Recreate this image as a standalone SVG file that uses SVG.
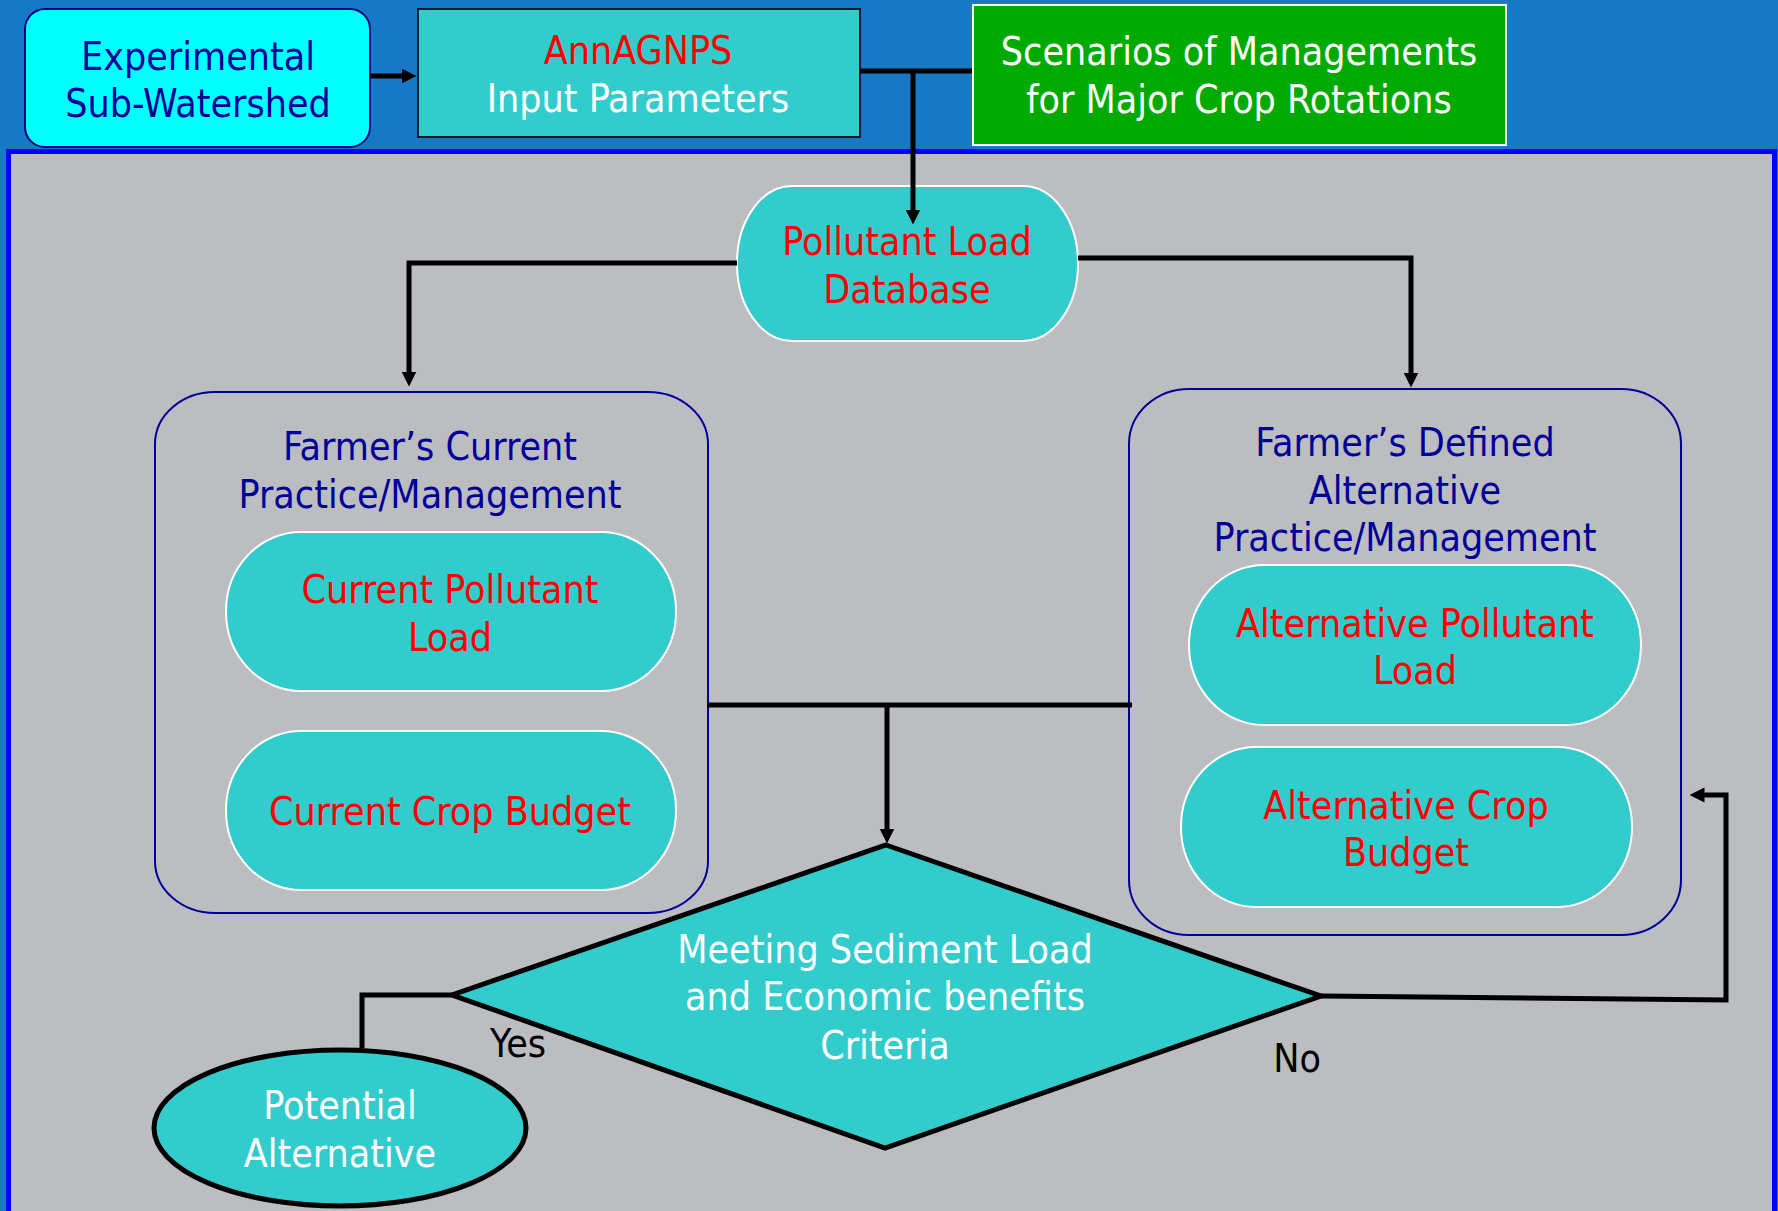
<svg xmlns="http://www.w3.org/2000/svg" width="1778" height="1211" viewBox="0 0 1778 1211">
<style>
text{font-family:"DejaVu Sans Condensed","DejaVu Sans",sans-serif;font-size:39px;text-anchor:middle}
.navy{fill:#000099}.red{fill:#FF0000}.white{fill:#FFFFFF}.black{fill:#000000}
.teal{fill:#33CCCC;stroke:#FFFFFF;stroke-width:2}
.cont{fill:none;stroke:#000099;stroke-width:2}
.conn{fill:none;stroke:#000000;stroke-width:5}
</style>
<defs>
<marker id="arr" viewBox="0 0 10 10" refX="1" refY="5" markerWidth="15" markerHeight="16" markerUnits="userSpaceOnUse" orient="auto"><path d="M0,0 L10,5 L0,10 z" fill="#000"/></marker>
</defs>
<rect x="0" y="0" width="1778" height="1211" fill="#1778C5"/>
<rect x="8.5" y="151.5" width="1766" height="1075" fill="#BBBDC0" stroke="#0000FF" stroke-width="5"/>

<g id="experimental">
<rect x="25" y="9" width="345" height="138" rx="20" fill="#00FFFF" stroke="#000080" stroke-width="2"/>
<text class="navy" x="198" y="70">Experimental</text>
<text class="navy" x="198" y="117">Sub-Watershed</text>
</g>
<g id="annagnps">
<rect x="418" y="9" width="442" height="128" fill="#33CCCC" stroke="#0A1A2A" stroke-width="2"/>
<text class="red" x="638" y="64">AnnAGNPS</text>
<text class="white" x="638" y="112">Input Parameters</text>
</g>
<g id="scenarios">
<rect x="973" y="5" width="533" height="140" fill="#00AA00" stroke="#FFFFFF" stroke-width="2"/>
<text class="white" x="1239" y="65">Scenarios of Managements</text>
<text class="white" x="1239" y="113">for Major Crop Rotations</text>
</g>
<g id="pollutant-db">
<rect class="teal" x="737" y="186" width="341" height="155" rx="55" ry="77"/>
<text class="red" x="907" y="255">Pollutant Load</text>
<text class="red" x="907" y="303">Database</text>
</g>
<g id="current-container">
<rect class="cont" x="155" y="392" width="553" height="521" rx="60" ry="52"/>
<text class="navy" x="430" y="460">Farmer’s Current</text>
<text class="navy" x="430" y="508">Practice/Management</text>
</g>
<g id="current-pollutant">
<rect class="teal" x="226" y="532" width="450" height="159" rx="75" ry="79"/>
<text class="red" x="450" y="603">Current Pollutant</text>
<text class="red" x="450" y="651">Load</text>
</g>
<g id="current-budget">
<rect class="teal" x="226" y="731" width="450" height="159" rx="75" ry="79"/>
<text class="red" x="450" y="825">Current Crop Budget</text>
</g>
<g id="alt-container">
<rect class="cont" x="1129" y="389" width="552" height="546" rx="60" ry="55"/>
<text class="navy" x="1405" y="456">Farmer’s Defined</text>
<text class="navy" x="1405" y="504">Alternative</text>
<text class="navy" x="1405" y="551">Practice/Management</text>
</g>
<g id="alt-pollutant">
<rect class="teal" x="1189" y="565" width="452" height="160" rx="75" ry="80"/>
<text class="red" x="1415" y="637">Alternative Pollutant</text>
<text class="red" x="1415" y="684">Load</text>
</g>
<g id="alt-budget">
<rect class="teal" x="1181" y="747" width="451" height="160" rx="75" ry="80"/>
<text class="red" x="1406" y="819">Alternative Crop</text>
<text class="red" x="1406" y="866">Budget</text>
</g>
<g id="decision">
<path d="M886,845 L1321,996 L885,1148 L452,995 Z" fill="#33CCCC" stroke="#000" stroke-width="5" stroke-linejoin="miter"/>
<text class="white" x="885" y="963">Meeting Sediment Load</text>
<text class="white" x="885" y="1010">and Economic benefits</text>
<text class="white" x="885" y="1059">Criteria</text>
</g>
<g id="potential">
<ellipse cx="340" cy="1128" rx="186" ry="78" fill="#33CCCC" stroke="#000" stroke-width="5"/>
<text class="white" x="340" y="1119">Potential</text>
<text class="white" x="340" y="1167">Alternative</text>
</g>

<g id="connectors">
<path class="conn" d="M370,76 H403" marker-end="url(#arr)"/>
<path class="conn" d="M860,71 H972"/>
<path class="conn" d="M913,71 V211" stroke-width="4" marker-end="url(#arr)"/>
<path class="conn" d="M737,263 H409 V373" marker-end="url(#arr)"/>
<path class="conn" d="M1078,258 H1411 V374" marker-end="url(#arr)"/>
<path class="conn" d="M707,705 H1132" stroke-width="4.5"/>
<path class="conn" d="M887,705 V830" stroke-width="4.5" marker-end="url(#arr)"/>
<path class="conn" d="M453,995 H362 V1048"/>
<path class="conn" d="M1321,996 L1726,1000 V795 H1703" stroke-width="4.5" marker-end="url(#arr)"/>
<text class="black" x="518" y="1057">Yes</text>
<text class="black" x="1297" y="1072">No</text>
</g>
</svg>
